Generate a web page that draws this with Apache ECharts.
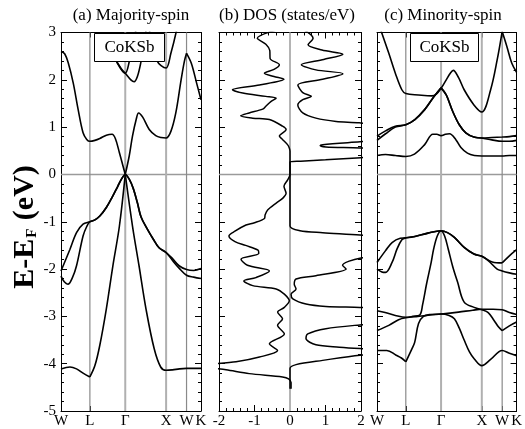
<!DOCTYPE html>
<html><head><meta charset="utf-8">
<script src="https://cdn.jsdelivr.net/npm/echarts@6/dist/echarts.min.js"></script>
<style>html,body{margin:0;padding:0;background:#fff}#c{width:525px;height:429px}</style>
</head><body><div id="c"></div>
<script>
// ---- tick / axis data ----
const symK = [0, 0.707, 1.573, 2.573, 3.073, 3.427];
const symLabels = ['W', 'L', 'Γ', 'X', 'W', 'K'];
const energyRange = [-5, 3];
const dosRange = [-2, 2];
const panelTitles = ['(a) Majority-spin', '(b) DOS (states/eV)', '(c) Minority-spin'];
const compound = 'CoKSb';

// ---- majority-spin bands [k, E]; null = cusp break ----
const majBand1 = [[0,-4.11],[0.22,-4.07],[0.38,-4.11],[0.54,-4.2],[0.707,-4.28],null,[0.707,-4.28],[0.83,-4.04],[0.95,-3.61],[1.11,-2.84],[1.27,-1.93],[1.43,-1.09],[1.573,0],null,[1.573,0],[1.75,-1.09],[1.91,-1.93],[2.08,-2.84],[2.28,-3.68],[2.44,-4.07],[2.573,-4.14],[2.73,-4.13],[2.9,-4.11],[3.073,-4.10],[3.25,-4.10],[3.427,-4.10]];
const majBand2 = [[0,2.6],[0.09,2.55],[0.18,2.35],[0.30,1.93],[0.42,1.37],[0.54,0.88],[0.63,0.74],[0.707,0.70],[0.83,0.72],[0.95,0.76],[1.11,0.83],[1.25,0.85],[1.33,0.76],[1.43,0.46],[1.573,0]];
const majBand3 = [[1.573,0],[1.67,0.39],[1.75,0.81],[1.84,1.16],[1.90,1.30],[2.0,1.21],[2.16,0.95],[2.32,0.82],[2.45,0.78],[2.573,0.77],[2.69,0.91],[2.81,1.30],[2.94,2.0],[3.02,2.39],[3.073,2.56],null,[3.073,2.56],[3.19,2.35],[3.32,1.93],[3.427,1.58]];
const majBand4 = [[0,-2.04],[0.22,-1.58],[0.38,-1.23],[0.54,-1.05],[0.707,-1.0],[0.83,-0.96],[0.95,-0.88],[1.11,-0.70],[1.26,-0.47],[1.39,-0.25],[1.48,-0.10],[1.573,0],[1.67,-0.10],[1.77,-0.30],[1.87,-0.60],[1.96,-0.90],[2.11,-1.15],[2.26,-1.37],[2.40,-1.55],[2.573,-1.65],[2.73,-1.78],[2.89,-1.93],[3.073,-2.01],[3.25,-2.03],[3.427,-1.99]];
const majBand5 = [[0,-2.15],[0.08,-2.27],[0.17,-2.32],[0.28,-2.18],[0.38,-1.93],[0.54,-1.30],[0.63,-1.1],[0.707,-1.0],[0.83,-0.96],[0.95,-0.88],[1.11,-0.70],[1.26,-0.47],[1.39,-0.25],[1.48,-0.10],[1.573,0],[1.67,-0.10],[1.77,-0.30],[1.87,-0.60],[1.96,-0.90],[2.11,-1.15],[2.26,-1.37],[2.40,-1.55],[2.573,-1.65],[2.73,-1.82],[2.89,-1.98],[3.073,-2.13],[3.25,-2.17],[3.427,-2.20]];
const majBand6 = [[1.19,2.95],[1.28,2.68],[1.35,2.42],[1.47,2.24],[1.573,2.14],[1.71,2.0],[1.79,1.96],[1.87,2.07],[1.96,2.39],[2.04,2.77],[2.08,3.05],[2.11,3.3]];
const majBand7 = [[1.15,2.9],[1.3,2.5],[1.45,2.25],[1.573,2.14],[1.68,2.42],[1.78,2.8],[1.86,3.2]];
const majBand8 = [[2.15,3.2],[2.21,2.8],[2.36,2.39],[2.45,2.3],[2.573,2.25],[2.69,2.56],[2.83,3.05],[2.88,3.3]];

// ---- minority-spin bands ----
const minBand1 = [[0,0.40],[0.21,0.42],[0.45,0.40],[0.707,0.38],[0.92,0.43],[1.17,0.63],[1.37,0.85],[1.47,0.85],[1.573,0.82],[1.68,0.85],[1.78,0.86],[1.94,0.73],[2.06,0.57],[2.22,0.45],[2.39,0.40],[2.573,0.39],[2.82,0.39],[3.073,0.39],[3.25,0.40],[3.427,0.40]];
const minBand2 = [[0,0.81],[0.21,0.92],[0.45,1.02],[0.707,1.05],[0.93,1.16],[1.17,1.37],[1.37,1.61],[1.573,1.83],null,[1.573,1.83],[1.70,1.68],[1.86,1.33],[2.02,1.05],[2.18,0.88],[2.38,0.79],[2.573,0.77],[2.82,0.78],[3.073,0.79],[3.25,0.80],[3.427,0.82]];
const minBand3 = [[0,0.72],[0.21,0.86],[0.45,1.0],[0.707,1.05],[0.93,1.16],[1.17,1.37],[1.37,1.61],[1.573,1.83],null,[1.573,1.83],[1.70,1.68],[1.86,1.33],[2.02,1.05],[2.18,0.88],[2.38,0.79],[2.573,0.77],[2.82,0.73],[3.073,0.70],[3.25,0.70],[3.427,0.72]];
const minBand4 = [[0,3.3],[0.094,3.05],[0.29,2.56],[0.45,2.14],[0.61,1.79],[0.707,1.71],[1.02,1.68],[1.35,1.66],[1.45,1.69],[1.573,1.82],[1.70,2.0],[1.80,2.14],[1.873,2.20],[2.0,2.05],[2.14,1.79],[2.38,1.47],[2.573,1.32],[2.79,1.79],[2.95,2.42],[3.073,3.02],null,[3.073,3.02],[3.19,2.70],[3.31,2.35],[3.427,2.16]];
const minBand5 = [[0,-1.86],[0.21,-1.61],[0.37,-1.44],[0.57,-1.35],[0.707,-1.34],[0.93,-1.31],[1.25,-1.24],[1.573,-1.19],[1.73,-1.23],[1.90,-1.33],[2.14,-1.54],[2.38,-1.68],[2.573,-1.73],[2.83,-1.85],[3.073,-1.87],null,[3.073,-1.87],[3.25,-1.72],[3.427,-1.59]];
const minBand6 = [[0,-2.0],[0.12,-2.06],[0.21,-2.07],[0.37,-1.86],[0.49,-1.58],[0.61,-1.38],[0.707,-1.34],[0.93,-1.31],[1.25,-1.24],[1.573,-1.19],[1.73,-1.23],[1.90,-1.33],[2.14,-1.54],[2.38,-1.68],[2.573,-1.73],[2.73,-1.82],[2.95,-2.0],[3.073,-2.04],[3.25,-2.08],[3.427,-2.11]];
const minBand7 = [[0,-2.88],[0.2,-2.92],[0.45,-2.98],[0.707,-3.02],[0.88,-3.0],[1.05,-2.97],[1.12,-2.75],[1.22,-2.3],[1.33,-1.86],[1.39,-1.58],[1.48,-1.3],[1.573,-1.19],[1.66,-1.3],[1.75,-1.58],[1.86,-1.95],[1.98,-2.28],[2.14,-2.70],[2.385,-2.81],[2.573,-2.86],[2.73,-2.92],[2.87,-3.08],[2.98,-3.22],[3.073,-3.30],null,[3.073,-3.30],[3.25,-3.2],[3.427,-3.12]];
const minBand8 = [[0,-3.30],[0.29,-3.19],[0.53,-3.07],[0.707,-3.03],[1.0,-3.0],[1.3,-2.97],[1.573,-2.95],[2.0,-2.91],[2.35,-2.87],[2.573,-2.85],[2.85,-2.85],[3.073,-2.86],[3.25,-2.92],[3.427,-2.96]];
const minBand9 = [[0,-3.72],[0.24,-3.72],[0.47,-3.82],[0.60,-3.88],[0.707,-3.96],null,[0.707,-3.96],[0.86,-3.68],[0.925,-3.55],[1.02,-3.15],[1.14,-3.0],[1.31,-2.96],[1.573,-2.95],[1.77,-2.98],[1.90,-3.05],[2.02,-3.25],[2.14,-3.5],[2.27,-3.75],[2.39,-3.9],[2.573,-4.04],[2.79,-3.91],[3.073,-3.72],[3.25,-3.78],[3.427,-3.83]];

// ---- DOS [states/eV, E]; majority negative, minority positive ----
const dosMajority = [[-0.39,3.05],[-0.92,2.88],[-0.68,2.75],[-0.57,2.62],[-0.56,2.45],[-0.30,2.32],[-0.45,2.22],[-0.72,2.14],[-0.45,2.07],[-0.17,2.01],[-0.86,1.89],[-1.62,1.79],[-1.33,1.72],[-0.68,1.65],[-0.39,1.61],[-0.54,1.54],[-0.68,1.44],[-0.77,1.38],[-1.15,1.30],[-1.39,1.24],[-1.05,1.19],[-0.58,1.16],[-0.21,1.02],[-0.11,0.95],[-0.30,0.81],[-0.21,0.74],[-0.07,0.63],[-0.02,0.56],[0,0.49],[0,0.1],[0,0],[-0.07,-0.12],[-0.17,-0.25],[-0.11,-0.40],[-0.2,-0.5],[-0.38,-0.60],[-0.63,-0.75],[-0.7,-0.85],[-0.72,-0.93],[-1.0,-1.02],[-1.24,-1.07],[-1.55,-1.2],[-1.72,-1.30],[-1.55,-1.42],[-1.25,-1.5],[-0.9,-1.6],[-0.88,-1.67],[-1.38,-1.79],[-1.2,-1.92],[-0.58,-2.04],[-0.96,-2.18],[-1.3,-2.25],[-1.05,-2.35],[-0.39,-2.42],[-0.16,-2.53],[-0.02,-2.67],[-0.16,-2.81],[-0.35,-2.91],[-0.21,-3.05],[-0.35,-3.19],[-0.16,-3.37],[-0.58,-3.58],[-0.35,-3.72],[-0.86,-3.86],[-1.52,-3.96],[-2.6,-4.05],[-1.8,-4.13],[-1.15,-4.21],[-0.21,-4.28],[-0.04,-4.32],[0.03,-4.4],[0.03,-4.53]];
const dosMinority = [[0.41,3.05],[0.65,2.88],[0.51,2.74],[0.9,2.63],[1.49,2.54],[0.95,2.43],[0.32,2.32],[0.73,2.21],[1.49,2.13],[0.92,2.01],[0.22,1.89],[0.36,1.73],[0.60,1.65],[0.36,1.58],[0.22,1.47],[0.36,1.30],[0.73,1.19],[1.30,1.12],[1.95,1.09],[3.0,0.98],[3.0,0.75],[1.97,0.69],[0.92,0.63],[0.85,0.61],[1.01,0.58],[1.97,0.56],[3.0,0.5],[3.0,0.4],[2.0,0.355],[1.0,0.31],[0.3,0.28],[0,0.265],[0,-1.09],[0.28,-1.19],[0.92,-1.23],[1.97,-1.28],[3,-1.35],[3,-1.70],[1.97,-1.77],[1.48,-1.92],[1.58,-2.0],[0.73,-2.14],[0.17,-2.21],[0.12,-2.32],[0.17,-2.42],[0.03,-2.53],[0.08,-2.63],[0.45,-2.74],[1.01,-2.79],[1.97,-2.81],[3,-2.85],[3,-3.12],[1.97,-3.18],[1.01,-3.26],[0.5,-3.37],[0.45,-3.47],[0.73,-3.60],[1.39,-3.65],[1.97,-3.68],[3,-3.72],[3,-3.78],[1.97,-3.82],[0.92,-3.93],[0.17,-4.02],[0,-4.1],[0,-4.53]];

const majBands = [majBand1, majBand2, majBand3, majBand4, majBand5, majBand6, majBand7, majBand8];
const minBands = [minBand1, minBand2, minBand3, minBand4, minBand5, minBand6, minBand7, minBand8, minBand9];

// ---- build ----
const FONT = '"Liberation Serif", "Times New Roman", serif';
const grids = [
  {left: 61, top: 32.5, width: 140, height: 380},
  {left: 219, top: 32.5, width: 142, height: 380},
  {left: 377, top: 32.5, width: 142, height: 380}
];
function pieces(arr) {
  const out = []; let cur = [];
  arr.forEach(p => { if (p === null) { out.push(cur); cur = []; } else cur.push(p); });
  out.push(cur); return out;
}
const xAxes = [], yAxes = [], series = [];
const kMax = symK[symK.length - 1];
function symLabel(v) {
  let best = 0;
  symK.forEach((k, i) => { if (Math.abs(k - v) < Math.abs(symK[best] - v)) best = i; });
  return symLabels[best];
}
grids.forEach((g, gi) => {
  const isDos = gi === 1;
  ['bottom', 'top'].forEach(pos => {
    const base = {
      gridIndex: gi, type: 'value', position: pos,
      axisLine: {show: true, onZero: false, lineStyle: {color: '#000', width: 1}},
      splitLine: {show: false}
    };
    if (isDos) {
      Object.assign(base, {min: dosRange[0], max: dosRange[1], interval: 1,
        axisTick: {show: true, inside: true, length: 6, lineStyle: {color: '#000'}},
        minorTick: {show: true, splitNumber: 5, length: 3, lineStyle: {color: '#000'}},
        axisLabel: {show: pos === 'bottom', fontFamily: FONT, fontSize: 15, color: '#000', margin: 3}
      });
    } else {
      Object.assign(base, {min: 0, max: kMax,
        axisTick: {show: true, inside: true, length: 5, customValues: symK, lineStyle: {color: '#000'}},
        axisLabel: {show: pos === 'bottom', customValues: symK, formatter: symLabel,
          fontFamily: FONT, fontSize: 15, color: '#000', margin: 3}
      });
    }
    xAxes.push(base);
  });
  ['left', 'right'].forEach(pos => {
    yAxes.push({
      gridIndex: gi, type: 'value', position: pos, min: energyRange[0], max: energyRange[1], interval: 1,
      axisLine: {show: true, onZero: false, lineStyle: {color: '#000', width: 1}},
      axisTick: {show: true, inside: true, length: 6, lineStyle: {color: '#000'}},
      minorTick: {show: true, splitNumber: 5, length: 3, lineStyle: {color: '#000'}},
      splitLine: {show: false},
      axisLabel: {show: gi === 0 && pos === 'left', fontFamily: FONT, fontSize: 15, color: '#000', margin: 5}
    });
  });
  // gray reference lines
  const xr = isDos ? dosRange : [0, kMax];
  series.push({type: 'line', xAxisIndex: gi * 2, yAxisIndex: gi * 2, data: [[xr[0], 0], [xr[1], 0]],
    symbol: 'none', silent: true, z: 1, lineStyle: {color: '#9a9a9a', width: 1.5}});
  if (isDos) {
    series.push({type: 'line', xAxisIndex: 2, yAxisIndex: 2, data: [[0, energyRange[0]], [0, energyRange[1]]],
      symbol: 'none', silent: true, z: 1, lineStyle: {color: '#b4b4b4', width: 2}});
  } else {
    symK.slice(1, symK.length - 1).forEach((k, i) => {
      const light = (i === 1 || i === 2);
      series.push({type: 'line', xAxisIndex: gi * 2, yAxisIndex: gi * 2, data: [[k, energyRange[0]], [k, energyRange[1]]],
        symbol: 'none', silent: true, z: 1,
        lineStyle: {color: light ? '#b0b0b0' : '#8a8a8a', width: light ? 2 : 1.2}});
    });
  }
});
function addCurves(list, gi, width, smooth) {
  list.forEach(b => pieces(b).forEach(pc => {
    series.push({type: 'line', xAxisIndex: gi * 2, yAxisIndex: gi * 2, data: pc, smooth: smooth,
      symbol: 'none', silent: true, z: 3, lineStyle: {color: '#000', width: width}});
  }));
}
addCurves(majBands, 0, 1.6, 0.35);
addCurves([dosMajority, dosMinority], 1, 1.5, 0.3);
addCurves(minBands, 2, 1.6, 0.35);

const titleCenters = [131, 287, 443];
const graphic = [];
panelTitles.forEach((t, i) => graphic.push({type: 'text', x: titleCenters[i], y: 16, z: 100,
  style: {text: t, fontFamily: FONT, fontSize: 17, fill: '#000', textAlign: 'center', textVerticalAlign: 'middle'}}));
[[94, 70], [410, 68]].forEach(([x, w]) => {
  graphic.push({type: 'rect', z: 100, shape: {x: x + 0.5, y: 33.5, width: w, height: 28},
    style: {fill: '#fff', stroke: '#000', lineWidth: 1}});
  graphic.push({type: 'text', z: 101, x: x + w / 2 + 0.5, y: 48,
    style: {text: compound, fontFamily: FONT, fontSize: 17, fill: '#000', textAlign: 'center', textVerticalAlign: 'middle'}});
});
graphic.push({type: 'text', z: 100, x: 25, y: 227, rotation: Math.PI / 2,
  style: {text: '{a|E-E}{s|F}{a| (eV)}', textAlign: 'center', textVerticalAlign: 'middle',
    rich: {a: {fontFamily: FONT, fontSize: 30, fontWeight: 'bold', fill: '#000', verticalAlign: 'bottom'},
           s: {fontFamily: FONT, fontSize: 15, fontWeight: 'bold', fill: '#000', verticalAlign: 'bottom', padding: [0,1,0,1]}}}});

const chart = echarts.init(document.getElementById('c'), null, {renderer: 'canvas'});
chart.setOption({
  animation: false, backgroundColor: '#fff',
  grid: grids, xAxis: xAxes, yAxis: yAxes, series: series, graphic: graphic
});
</script></body></html>
